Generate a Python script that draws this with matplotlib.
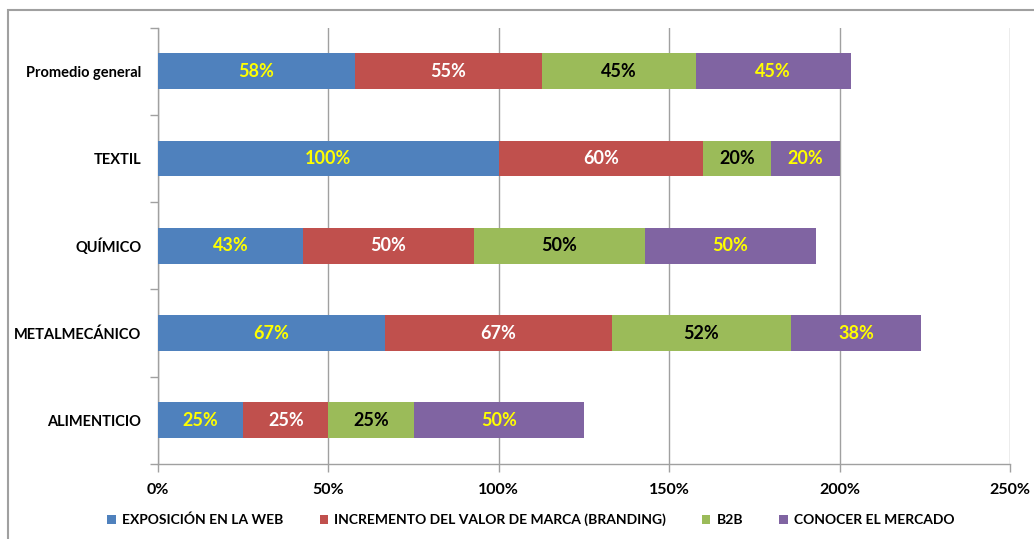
import numpy as np
import matplotlib
matplotlib.use('Agg')
import matplotlib.pyplot as plt
from matplotlib.patches import Rectangle

plt.rcParams['font.family'] = ['Lato', 'DejaVu Sans']

categories = ['ALIMENTICIO', 'METALMECÁNICO', 'QUÍMICO', 'TEXTIL', 'Promedio general']
series_names = ['EXPOSICIÓN EN LA WEB', 'INCREMENTO DEL VALOR DE MARCA (BRANDING)',
                'B2B', 'CONOCER EL MERCADO']
web = [25, 66.6, 42.5, 100, 57.8]
branding = [25, 66.6, 50.2, 60, 54.8]
b2b = [25, 52.5, 50.1, 20, 45.2]
mercado = [50, 38.2, 50.2, 20, 45.4]
labels_web = ['25%', '67%', '43%', '100%', '58%']
labels_branding = ['25%', '67%', '50%', '60%', '55%']
labels_b2b = ['25%', '52%', '50%', '20%', '45%']
labels_mercado = ['50%', '38%', '50%', '20%', '45%']

colors = ['#4F81BD', '#C0504D', '#9BBB59', '#8064A2']
text_colors = ['#FFFF00', 'white', 'black', '#FFFF00']

fig = plt.figure(figsize=(10.34, 5.39), dpi=100)
ax = fig.add_axes([158 / 1034, 1 - 464 / 539, (1010 - 158) / 1034, (464 - 27.5) / 539])

y = np.arange(len(categories))
left = np.zeros(len(categories))
all_vals = [web, branding, b2b, mercado]
all_labels = [labels_web, labels_branding, labels_b2b, labels_mercado]
for vals, labs, name, c, tc in zip(all_vals, all_labels, series_names, colors, text_colors):
    vals = np.array(vals)
    ax.barh(y, vals, left=left, height=0.41, color=c, label=name, zorder=3)
    for yi, l, v, lab in zip(y, left, vals, labs):
        ax.text(l + v / 2, yi, lab, ha='center', va='center', color=tc,
                fontsize=13, fontweight='bold', zorder=4)
    left = left + vals

ax.set_xlim(0, 250)
ax.set_ylim(-0.5, len(categories) - 0.5)
ax.set_xticks(np.arange(0, 251, 50))
ax.set_xticklabels([f'{v}%' for v in range(0, 251, 50)])
ax.set_yticks(y)
ax.set_yticklabels(categories)
ax.set_yticks(np.arange(-0.5, len(categories), 1), minor=True)
ax.tick_params(axis='y', which='major', length=0, pad=12)
ax.tick_params(axis='y', which='minor', length=6, color='#A0A0A0', width=1)
ax.tick_params(axis='x', length=6, color='#A0A0A0', width=1, pad=8)
for lab in ax.get_xticklabels():
    lab.set_fontsize(11.5)
    lab.set_fontweight('bold')
for lab in ax.get_yticklabels():
    lab.set_fontsize(10.5)
    lab.set_fontweight('bold')

ax.grid(axis='x', color='#A0A0A0', linewidth=1, zorder=0)
ax.set_axisbelow(True)
for s in ['top', 'right']:
    ax.spines[s].set_visible(False)
for s in ['left', 'bottom']:
    ax.spines[s].set_color('#A0A0A0')
    ax.spines[s].set_linewidth(1)

leg = fig.legend(loc='center', bbox_to_anchor=(531 / 1034, 1 - 520 / 539), ncol=4, frameon=False,
                 handlelength=0.6, handleheight=0.6, handletextpad=0.45, columnspacing=2.6,
                 prop={'size': 10, 'weight': 'bold'})

# outer chart frame (only top and left edges visible in the picture)
fig.patches.append(Rectangle((7.5 / 1034, -0.1), 1.2, 1 - 10 / 539 + 0.1,
                             transform=fig.transFigure, fill=False,
                             edgecolor='#A0A0A0', linewidth=1.5))

fig.savefig('out.png', dpi=100)
